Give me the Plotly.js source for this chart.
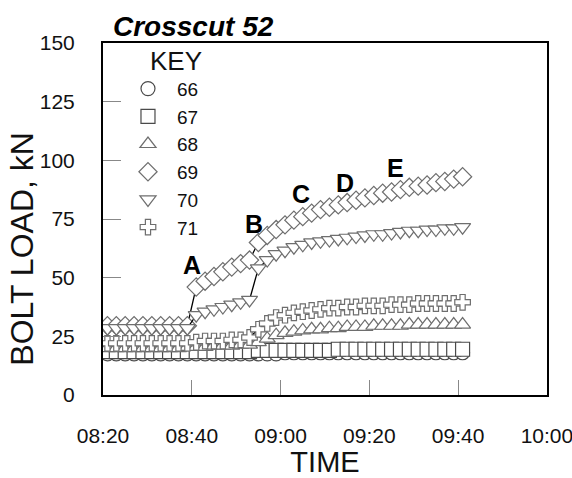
<!DOCTYPE html>
<html>
<head>
<meta charset="utf-8">
<script src="https://cdn.plot.ly/plotly-3.0.1.min.js"></script>
<style>
  html, body { margin: 0; padding: 0; background: #fff; }
  #chart { width: 572px; height: 478px; }
</style>
</head>
<body>
<div id="chart"></div>
<script>
// Reading times (HH:MM)
const times = ["08:21","08:23","08:25","08:27","08:29","08:31","08:33","08:35","08:37","08:39",
               "08:41","08:43","08:45","08:47","08:49","08:51","08:53",
               "08:55","08:57","08:59","09:01","09:03","09:05","09:07","09:09","09:11","09:13",
               "09:15","09:17","09:19","09:21","09:23","09:25","09:27","09:29","09:31","09:33",
               "09:35","09:37","09:39","09:41"];

const bolt66 = [17.5,17.5,17.5,17.5,17.5,17.5,17.5,17.5,17.5,17.5,
                17.5,17.5,17.5,17.5,17.5,17.5,17.5,
                17.5,17.5,17.5,18,18,18,18,18,18,18,18,18,18,18,18,18,18,18,18,18,18,18,18,18];
const bolt67 = [18.5,18.5,18.5,18.5,18.5,18.5,18.5,18.5,18.5,18.5,
                18.5,18.5,18.5,18.5,18.5,18.5,18.5,
                19,19,19,19,19,19,19,19,19,19.5,19.5,19.5,19.5,19.5,19.5,19.5,19.5,19.5,19.5,19.5,19.5,19.5,19.5,19.5];
const bolt68 = [20,20,20,20,20,20,20,20,20,20.5,
                20.5,20.5,21,21,21,21.5,21.5,
                22.5,24,25.5,26.5,27,27.5,28,28,28.5,28.5,29,29,29,29.5,29.5,29.5,29.5,30,30,30,30,30,30,30];
const bolt69 = [29.5,29.5,29.5,29.5,29.5,29.5,29.5,29.5,29.5,29.5,
                46,48.5,50.5,52.5,54.5,56,57.5,
                65,68,70.5,72.5,74.5,76,77.5,79,80,81,82,83,84,85,86,86.5,87.5,88.5,89,89.5,90.5,91,92,93];
const bolt70 = [28.5,28.5,28.5,28.5,28.5,28.5,28.5,28.5,28.5,28.5,
                34,35.5,36.5,37.5,38.5,39.5,40.5,
                54,57.5,60,61.5,63,64,65,65.5,66,66.5,67,67.5,68,68.5,68.5,69,69.5,70,70,70.5,70.5,71,71,71.5];
const bolt71 = [22,22,22,22,22,22,22,22,22,22,
                22.5,23,23,23,23.5,23.5,24.5,
                28,30.5,33,34,35,35.5,36,36.5,37,37,37.5,37.5,38,38,38,38.5,38.5,38.5,39,39,39,39,39,39.5];

const seriesNames = ["66","67","68","69","70","71"];
const seriesValues = [bolt66, bolt67, bolt68, bolt69, bolt70, bolt71];
const seriesSymbols = ["circle","square","triangle-up","diamond","triangle-down","cross"];

const eventLabels = ["A","B","C","D","E"];
const eventTimes  = ["08:40","08:54","09:04:30","09:14:30","09:26"];
const eventLoads  = [55.5, 73, 85.5, 90.3, 96.7];

const xTickTimes = ["08:20","08:40","09:00","09:20","09:40","10:00"];
const yTickVals = [0,25,50,75,100,125,150];

const day = "2000-01-01 ";
const xs = times.map(t => day + t);

const FONT = "Arial, 'Liberation Sans', Helvetica, sans-serif";
const markerLine = "#6e6e6e";

const traces = [];
seriesNames.forEach((name, i) => {
  traces.push({
    x: xs, y: seriesValues[i], type: "scatter", mode: "lines",
    line: { color: "#000", width: 1.3 },
    showlegend: false, hoverinfo: "skip"
  });
  const sym = seriesSymbols[i];
  traces.push({
    x: xs, y: seriesValues[i], type: "scatter", mode: "markers", name: name,
    marker: {
      symbol: sym, size: sym === "cross" ? 13 : 14,
      color: "#fff",
      line: { color: i < 2 ? "#4a4a4a" : markerLine, width: 1.2 }
    }
  });
});

const annotations = eventLabels.map((lab, i) => ({
  x: day + eventTimes[i], y: eventLoads[i], xref: "x", yref: "y",
  text: lab, showarrow: false,
  font: { family: FONT, size: 25, color: "#000", weight: "bold" }
}));
annotations.push({
  xref: "paper", yref: "paper", x: -0.183, y: 0.415,
  xanchor: "center", yanchor: "middle",
  text: "BOLT LOAD, kN", textangle: -90, showarrow: false,
  font: { family: FONT, size: 32, color: "#111" }
});

const layout = {
  width: 572, height: 478,
  margin: { l: 103, r: 25, t: 43, b: 83 },
  paper_bgcolor: "#fff", plot_bgcolor: "#fff",
  font: { family: FONT, color: "#111" },
  title: {
    text: "Crosscut 52",
    font: { family: FONT, size: 28, weight: "bold", style: "italic", color: "#000" },
    x: 0.0225, xref: "paper", xanchor: "left",
    y: 0.945, yref: "container", yanchor: "middle"
  },
  xaxis: {
    type: "date",
    range: [day + "08:20", day + "10:00:01"],
    tickvals: xTickTimes.map(t => day + t),
    ticktext: xTickTimes,
    ticks: "inside", ticklen: 15, tickcolor: "#888", tickwidth: 1,
    showgrid: false, zeroline: false,
    showline: true, linecolor: "#000", linewidth: 2, mirror: true,
    tickfont: { family: FONT, size: 21, color: "#111" },
    ticklabelstandoff: 21,
    ticklabeloverflow: "allow",
    title: { text: "TIME", font: { family: FONT, size: 29, color: "#111" }, standoff: 8 }
  },
  yaxis: {
    range: [0, 150],
    tickvals: yTickVals,
    ticks: "inside", ticklen: 18, tickcolor: "#888", tickwidth: 1,
    showgrid: false, zeroline: false,
    showline: true, linecolor: "#000", linewidth: 2, mirror: true,
    tickfont: { family: FONT, size: 21, color: "#111" },
    ticklabelstandoff: 22
  },
  legend: {
    x: 0.036, y: 1.02, xanchor: "left", yanchor: "top",
    bgcolor: "rgba(0,0,0,0)", borderwidth: 0,
    font: { family: FONT, size: 19, color: "#111" },
    title: { text: "KEY", side: "top right", font: { family: FONT, size: 26, color: "#111" } },
    itemwidth: 48
  },
  annotations: annotations,
  showlegend: true
};

Plotly.newPlot("chart", traces, layout, { displayModeBar: false, staticPlot: true });
</script>
</body>
</html>
